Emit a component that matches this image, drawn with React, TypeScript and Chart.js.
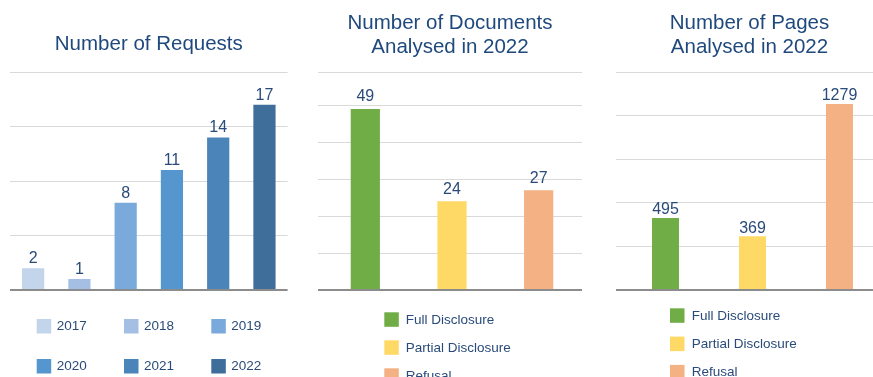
import React, { useEffect, useRef } from 'react';
import { Chart, registerables } from 'chart.js';

Chart.register(...registerables);

const FONT = "'Liberation Sans', Arial, sans-serif";
const TITLE_COLOR = '#1f497d';
const TEXT_COLOR = '#2a4b7a';
const GRID_COLOR = '#d9d9d9';
const BASE_COLOR = '#8c8c8c';

// ---- data ----
const requestYears = ['2017', '2018', '2019', '2020', '2021', '2022'];
const requestCounts = [2, 1, 8, 11, 14, 17];
const requestColors = ['#c3d5eb', '#a4bfe3', '#7aaadb', '#5596cf', '#4a84b8', '#3e6e99'];
const requestTicks = [0, 5, 10, 15, 20];

const dispositionLabels = ['Full Disclosure', 'Partial Disclosure', 'Refusal'];
const dispositionColors = ['#70ad47', '#ffd966', '#f4b183'];

const documentCounts = [49, 24, 27];
const documentTicks = [0, 10, 20, 30, 40, 50, 59];

const pageCounts = [495, 369, 1279];
const pageTicks = [0, 300, 600, 900, 1200, 1500];

// ---- plugins ----
const valueLabels = {
  id: 'valueLabels',
  afterDatasetsDraw(chart: any, _args: any, opts: any) {
    const ctx = chart.ctx;
    const meta = chart.getDatasetMeta(0);
    const data = chart.data.datasets[0].data;
    ctx.save();
    ctx.font = `16px ${FONT}`;
    ctx.fillStyle = TEXT_COLOR;
    ctx.textAlign = 'center';
    ctx.textBaseline = 'alphabetic';
    meta.data.forEach((el: any, i: number) => {
      ctx.fillText(String(data[i]), el.x, el.y - (opts.gap ?? 5));
    });
    ctx.restore();
  },
};

const boxLegend = {
  id: 'boxLegend',
  afterDraw(chart: any, _args: any, opts: any) {
    const ctx = chart.ctx;
    const labels: string[] = chart.data.labels;
    const colors: string[] = chart.data.datasets[0].backgroundColor;
    ctx.save();
    ctx.font = `13.5px ${FONT}`;
    ctx.textAlign = 'left';
    ctx.textBaseline = 'middle';
    labels.forEach((lab, i) => {
      const col = i % opts.cols;
      const row = Math.floor(i / opts.cols);
      const bx = opts.x + col * opts.colGap;
      const by = opts.y + row * opts.rowGap;
      ctx.fillStyle = colors[i];
      ctx.fillRect(bx, by, opts.box, opts.box);
      ctx.fillStyle = TEXT_COLOR;
      ctx.fillText(lab, bx + opts.textOffset, by + opts.box / 2 + 0.5);
    });
    ctx.restore();
  },
};

type PanelProps = {
  left: number;
  title: string | string[];
  titlePad: { top: number; bottom: number };
  labels: string[];
  values: number[];
  colors: string[];
  ticks: number[];
  barPct: number;
  padLeft: number;
  padRight: number;
  tickLen: number;
  gap: number;
  legend: any;
};

function Panel(p: PanelProps) {
  const ref = useRef<HTMLCanvasElement>(null);
  useEffect(() => {
    if (!ref.current) return;
    const chart = new Chart(ref.current, {
      type: 'bar',
      data: {
        labels: p.labels,
        datasets: [
          {
            data: p.values,
            backgroundColor: p.colors,
            borderWidth: 0,
            barPercentage: p.barPct,
            categoryPercentage: 1,
          },
        ],
      },
      options: {
        responsive: false,
        animation: false,
        layout: { padding: { left: p.padLeft, right: p.padRight, top: 0, bottom: 87 } },
        scales: {
          x: { display: false },
          y: {
            display: true,
            min: p.ticks[0],
            max: p.ticks[p.ticks.length - 1],
            afterBuildTicks: (s: any) => {
              s.ticks = p.ticks.map((v) => ({ value: v }));
            },
            ticks: { display: false },
            border: { display: false },
            grid: {
              color: (c: any) => (c.tick && c.tick.value === 0 ? BASE_COLOR : GRID_COLOR),
              lineWidth: (c: any) => (c.tick && c.tick.value === 0 ? 2 : 1),
              drawTicks: p.tickLen > 0,
              tickLength: p.tickLen,
            },
          },
        },
        plugins: {
          legend: { display: false },
          tooltip: { enabled: false },
          title: {
            display: true,
            text: p.title,
            color: TITLE_COLOR,
            font: { family: FONT, size: 20.5, weight: 'normal', lineHeight: '24px' },
            padding: p.titlePad,
          },
          valueLabels: { gap: p.gap },
          boxLegend: p.legend,
        } as any,
      },
      plugins: [valueLabels, boxLegend],
    } as any);
    return () => chart.destroy();
  }, []);
  return (
    <canvas
      ref={ref}
      width={300}
      height={377}
      style={{ position: 'absolute', left: p.left, top: 0, width: 300, height: 377 }}
    />
  );
}

export default function App() {
  return (
    <div
      style={{
        position: 'absolute',
        left: 0,
        top: 0,
        width: 873,
        height: 377,
        overflow: 'hidden',
        background: '#ffffff',
      }}
    >
      <Panel
        left={0}
        title="Number of Requests"
        titlePad={{ top: 32.5, bottom: 15.5 }}
        labels={requestYears}
        values={requestCounts}
        colors={requestColors}
        ticks={requestTicks}
        barPct={0.48}
        padLeft={10}
        padRight={12.4}
        tickLen={0}
        gap={5}
        legend={{ x: 36.7, y: 319, cols: 3, colGap: 87.3, rowGap: 40, box: 14.5, textOffset: 20 }}
      />
      <Panel
        left={300}
        title={['Number of Documents', 'Analysed in 2022']}
        titlePad={{ top: 11.6, bottom: 12.4 }}
        labels={dispositionLabels}
        values={documentCounts}
        colors={dispositionColors}
        ticks={documentTicks}
        barPct={0.337}
        padLeft={18}
        padRight={18}
        tickLen={4}
        gap={7.5}
        legend={{ x: 84.3, y: 312.3, cols: 1, colGap: 0, rowGap: 28, box: 14.5, textOffset: 21.4 }}
      />
      <Panel
        left={600}
        title={['Number of Pages', 'Analysed in 2022']}
        titlePad={{ top: 11.6, bottom: 12.4 }}
        labels={dispositionLabels}
        values={pageCounts}
        colors={dispositionColors}
        ticks={pageTicks}
        barPct={0.31}
        padLeft={16}
        padRight={17}
        tickLen={6}
        gap={3.8}
        legend={{ x: 70, y: 308.3, cols: 1, colGap: 0, rowGap: 28.3, box: 14.5, textOffset: 21.7 }}
      />
    </div>
  );
}
